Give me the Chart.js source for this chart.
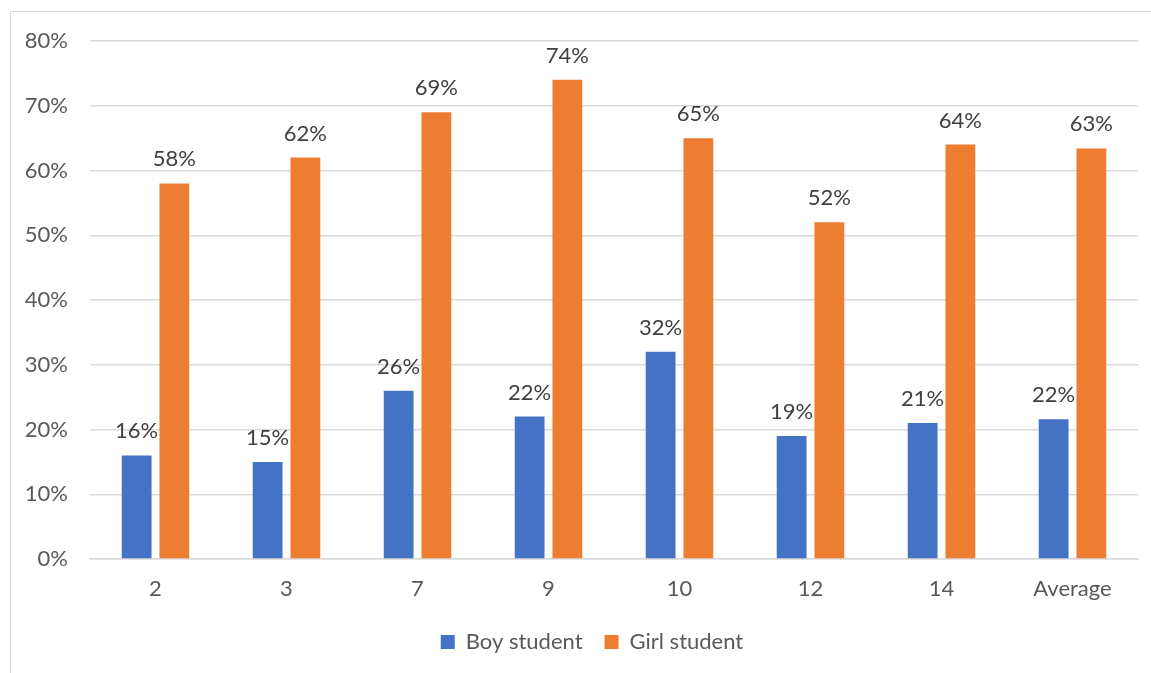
<!DOCTYPE html>
<html>
<head>
<meta charset="utf-8">
<script src="https://cdn.jsdelivr.net/npm/chart.js@4.4.1/dist/chart.umd.min.js"></script>
<style>
    html, body { margin: 0; padding: 0; background: #ffffff; overflow: hidden; }
    body { width: 1151px; height: 673px; position: relative; }
    #frame {
        position: absolute; left: 10px; top: 11px;
        width: 1162px; height: 700px;
        border-left: 1px solid #d9d9d9; border-top: 1px solid #d9d9d9;
    }
    #chart-box { position: relative; width: 1162px; height: 651px; }
</style>
</head>
<body>
<div id="frame"><div id="chart-box"><canvas id="chart-students"></canvas></div></div>
<script>
    // Chart data
    var categories = ['2', '3', '7', '9', '10', '12', '14', 'Average'];
    var boyValues = [16, 15, 26, 22, 32, 19, 21, 21.6];
    var girlValues = [58, 62, 69, 74, 65, 52, 64, 63.4];
    var yTicks = [0, 10, 20, 30, 40, 50, 60, 70, 80];

    var FONT = 'Lato, "Open Sans", sans-serif';
    var FONT_SIZE = 22;

    /**
     * Draw value labels above each bar.
     */
    var barLabels = {
        id: 'barLabels',
        afterDatasetsDraw: function (chart) {
            var ctx = chart.ctx;
            ctx.save();
            ctx.font = FONT_SIZE + 'px ' + FONT;
            ctx.fillStyle = '#404040';
            ctx.textAlign = 'center';
            ctx.textBaseline = 'alphabetic';
            chart.data.datasets.forEach(function (ds, i) {
                var meta = chart.getDatasetMeta(i);
                meta.data.forEach(function (bar, j) {
                    ctx.fillText(Math.round(ds.data[j]) + '%', bar.x, bar.y - 17);
                });
            });
            ctx.restore();
        }
    };

    new Chart(document.getElementById('chart-students'), {
        type: 'bar',
        data: {
            labels: categories,
            datasets: [{
                label: 'Boy student',
                data: boyValues,
                backgroundColor: '#4472C4',
                categoryPercentage: 0.576,
                barPercentage: 0.79,
            }, {
                label: 'Girl student',
                data: girlValues,
                backgroundColor: '#ED7D31',
                categoryPercentage: 0.576,
                barPercentage: 0.79,
            }],
        },
        options: {
            responsive: true,
            maintainAspectRatio: false,
            animation: false,
            layout: { padding: { top: 29, left: 0, right: 0, bottom: 0 } },
            plugins: {
                legend: {
                    position: 'bottom',
                    labels: {
                        boxWidth: 14,
                        boxHeight: 14,
                        padding: 22,
                        color: '#595959',
                        font: { family: FONT, size: FONT_SIZE },
                    },
                },
                tooltip: { enabled: false },
            },
            scales: {
                x: {
                    grid: { display: false, drawTicks: false },
                    border: { display: true, color: '#d9d9d9', width: 1.5 },
                    ticks: { color: '#595959', font: { family: FONT, size: FONT_SIZE }, padding: 17 },
                    afterFit: function (scale) { scale.height = 50; },
                },
                y: {
                    min: 0,
                    max: 80,
                    afterBuildTicks: function (scale) {
                        scale.ticks = yTicks.map(function (v) { return { value: v }; });
                    },
                    grid: { color: '#d9d9d9', lineWidth: 1.5, drawTicks: false },
                    border: { display: false },
                    ticks: {
                        color: '#595959',
                        font: { family: FONT, size: FONT_SIZE },
                        padding: 22,
                        callback: function (v) { return v + '%'; },
                    },
                    afterFit: function (scale) {
                        scale.width = 79;
                        // tick padding should not push the plot area down
                        scale.paddingTop = 0;
                        scale.paddingBottom = 0;
                    },
                },
                yRight: {
                    position: 'right',
                    display: true,
                    grid: { display: false, drawTicks: false },
                    border: { display: false },
                    ticks: { display: false },
                    afterFit: function (scale) { scale.width = 35; },
                },
            },
        },
        plugins: [barLabels],
    });
</script>
</body>
</html>
